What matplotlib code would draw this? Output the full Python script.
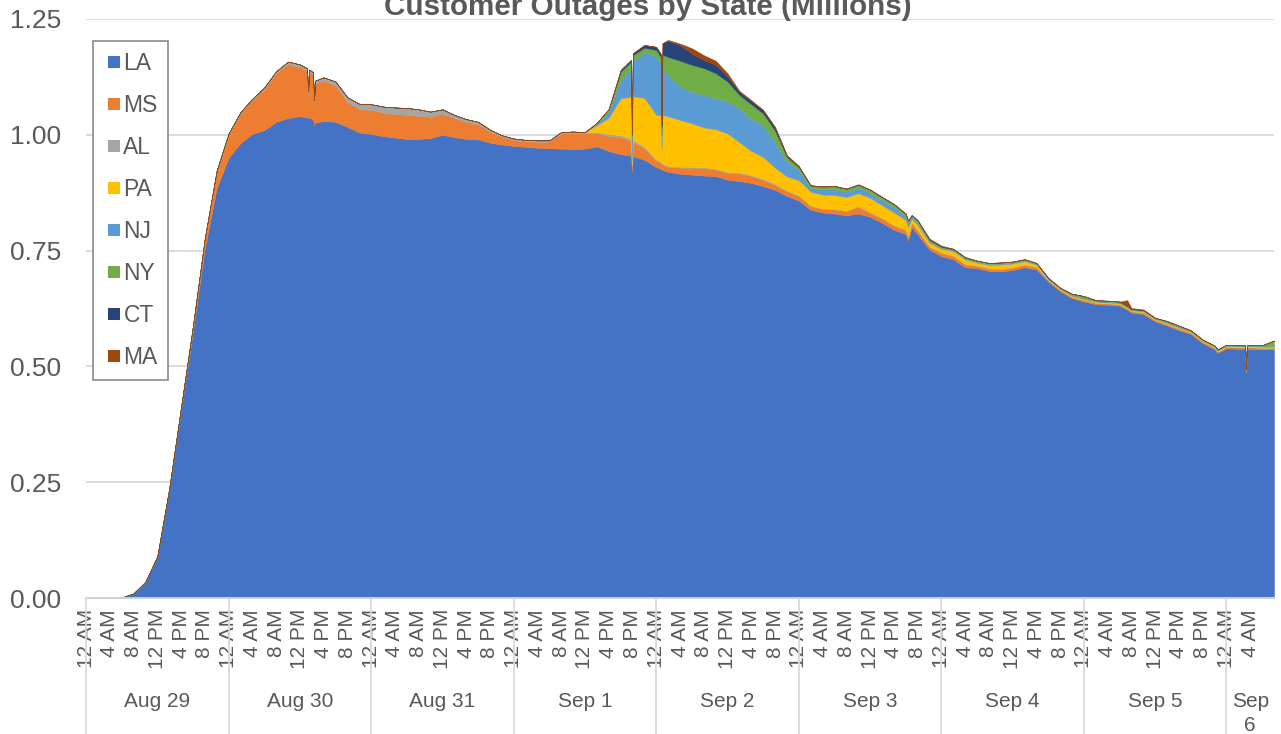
import numpy as np
import matplotlib
matplotlib.use("Agg")
import matplotlib.pyplot as plt
from matplotlib.lines import Line2D
from matplotlib.ticker import FormatStrFormatter
import matplotlib.transforms as mtransforms

plt.rcParams['font.family'] = ['Liberation Sans', 'DejaVu Sans']

TITLE = "Customer Outages by State (Millions)"

# hours since Aug 29, 12 AM
HOURS = [0, 2, 4, 6, 8, 10, 12, 14, 16, 18,
         20, 22, 24, 26, 28, 30, 32, 34, 36,
         37.2, 37.4, 37.6, 38.2, 38.4, 38.6,
         40, 42, 44, 46, 48, 50, 52, 54, 56, 58,
         60, 62, 64, 66, 68, 70, 72, 74, 76, 78,
         80, 82, 84, 86, 88, 90,
         91.75, 91.9, 92.05, 94, 96, 96.75, 96.9, 97.05,
         98, 100, 102, 104, 106, 108, 110, 112, 114, 116, 118,
         120, 122, 124, 126, 128, 130, 132, 134, 136, 138, 138.4, 139,
         140, 142, 144, 146, 148, 150, 152, 154, 156, 158,
         160, 162, 164, 166, 168, 170, 172, 174, 175.3,
         176, 178, 180, 182, 184, 186, 188, 190, 190.5,
         192, 194, 195.15, 195.3, 195.45, 196, 198, 200]

LA = [0, 0, 0, 0.001, 0.010, 0.035, 0.090, 0.233, 0.406, 0.575,
      0.755, 0.885, 0.950, 0.982, 1.002, 1.010, 1.028, 1.036, 1.040,
      1.038, 1.036, 1.037, 1.034, 1.022, 1.026,
      1.030, 1.028, 1.017, 1.005, 1.002, 0.997, 0.994, 0.991, 0.991, 0.993,
      1.000, 0.995, 0.991, 0.990, 0.983, 0.979, 0.976, 0.974, 0.972, 0.971,
      0.970, 0.969, 0.970, 0.975, 0.965, 0.958,
      0.955, 0.920, 0.954, 0.946, 0.930, 0.927, 0.925, 0.924,
      0.920, 0.916, 0.914, 0.912, 0.911, 0.903, 0.900, 0.896, 0.889, 0.881, 0.868,
      0.858, 0.838, 0.832, 0.830, 0.826, 0.830, 0.823, 0.810, 0.795, 0.786, 0.772, 0.800,
      0.785, 0.752, 0.738, 0.731, 0.714, 0.712, 0.706, 0.705, 0.708, 0.714,
      0.709, 0.683, 0.662, 0.647, 0.640, 0.634, 0.633, 0.631, 0.622,
      0.616, 0.613, 0.597, 0.588, 0.578, 0.570, 0.550, 0.537, 0.529,
      0.539, 0.538, 0.538, 0.486, 0.538, 0.538, 0.537, 0.537]

MS = [0, 0, 0, 0, 0, 0, 0, 0.003, 0.006, 0.012,
      0.020, 0.035, 0.050, 0.064, 0.073, 0.088, 0.105, 0.117, 0.106,
      0.100, 0.052, 0.098, 0.095, 0.047, 0.085,
      0.087, 0.079, 0.054, 0.050, 0.052, 0.051, 0.051, 0.052, 0.050, 0.046,
      0.046, 0.041, 0.037, 0.033, 0.024, 0.017, 0.013, 0.012, 0.013, 0.014,
      0.033, 0.035, 0.033, 0.028, 0.033, 0.037,
      0.033, 0.012, 0.031, 0.025, 0.014, 0.013, 0.012, 0.012,
      0.011, 0.013, 0.015, 0.016, 0.014, 0.015, 0.017, 0.015, 0.014, 0.011, 0.010,
      0.010, 0.008, 0.008, 0.009, 0.009, 0.015, 0.009, 0.009, 0.009, 0.008, 0.008, 0.010,
      0.008, 0.006, 0.007, 0.007, 0.006, 0.005, 0.005, 0.005, 0.005, 0.005,
      0.005, 0.003, 0.003, 0.003, 0.003, 0.003, 0.003, 0.003, 0.003,
      0.003, 0.003, 0.003, 0.003, 0.003, 0.003, 0.003, 0.003, 0.003,
      0.003, 0.003, 0.003, 0.003, 0.003, 0.003, 0.003, 0.003]

AL = [0, 0, 0, 0, 0, 0, 0, 0, 0, 0,
      0.002, 0.003, 0.003, 0.003, 0.003, 0.004, 0.004, 0.005, 0.006,
      0.006, 0.006, 0.006, 0.006, 0.006, 0.006,
      0.007, 0.008, 0.010, 0.012, 0.012, 0.013, 0.014, 0.015, 0.014, 0.011,
      0.009, 0.007, 0.006, 0.005, 0.004, 0.003, 0.003, 0.003, 0.003, 0.003,
      0.003, 0.003, 0.003, 0.003, 0.004, 0.004,
      0.004, 0.002, 0.004, 0.003, 0.002, 0.002, 0.002, 0.002,
      0.002, 0.002, 0.002, 0.002, 0.002, 0.002, 0.002, 0.002, 0.002, 0.002, 0.002,
      0.001, 0.001, 0.001, 0.001, 0.001, 0.001, 0.001, 0.001, 0.001, 0.001, 0.001, 0.001,
      0.001, 0.001, 0.001, 0.001, 0.001, 0.001, 0.001, 0.001, 0.001, 0.001,
      0.001, 0.0005, 0.0005, 0.0005, 0.0005, 0.0005, 0.0005, 0.0005, 0.0005,
      0.0005, 0.0005, 0.0005, 0.0005, 0.0005, 0.0005, 0.0005, 0.0005, 0.0005,
      0.0005, 0.0005, 0.0005, 0.0005, 0.0005, 0.0005, 0.0005, 0.0005]

PA = [0, 0, 0, 0, 0, 0, 0, 0, 0, 0,
      0, 0, 0, 0, 0, 0, 0, 0, 0,
      0, 0, 0, 0, 0, 0,
      0, 0, 0, 0, 0, 0, 0, 0, 0, 0,
      0, 0, 0, 0, 0, 0, 0, 0, 0, 0,
      0, 0, 0, 0.015, 0.035, 0.080,
      0.090, 0.010, 0.094, 0.106, 0.097, 0.100, 0.030, 0.105,
      0.107, 0.101, 0.094, 0.086, 0.085, 0.083, 0.065, 0.052, 0.047, 0.035, 0.030,
      0.033, 0.030, 0.030, 0.030, 0.030, 0.028, 0.031, 0.028, 0.028, 0.021, 0.020, 0.008,
      0.012, 0.008, 0.008, 0.010, 0.010, 0.006, 0.007, 0.009, 0.008, 0.007,
      0.005, 0.002, 0.002, 0.002, 0.002, 0.002, 0.002, 0.002, 0.002,
      0.002, 0.002, 0.002, 0.002, 0.002, 0.002, 0.002, 0.002, 0.002,
      0.002, 0.002, 0.002, 0.002, 0.002, 0.002, 0.002, 0.002]

NJ = [0, 0, 0, 0, 0, 0, 0, 0, 0, 0,
      0, 0, 0, 0, 0, 0, 0, 0, 0,
      0, 0, 0, 0, 0, 0,
      0, 0, 0, 0, 0, 0, 0, 0, 0, 0,
      0, 0, 0, 0, 0, 0, 0, 0, 0, 0,
      0, 0, 0, 0.003, 0.012, 0.039,
      0.060, 0.040, 0.075, 0.099, 0.126, 0.110, 0.030, 0.100,
      0.088, 0.072, 0.068, 0.070, 0.067, 0.069, 0.073, 0.069, 0.068, 0.054, 0.032,
      0.022, 0.008, 0.011, 0.012, 0.011, 0.012, 0.011, 0.011, 0.011, 0.008, 0.008, 0.004,
      0.005, 0.003, 0.002, 0.002, 0.002, 0.002, 0.002, 0.002, 0.002, 0.002,
      0.002, 0.001, 0.001, 0.001, 0.001, 0.001, 0.001, 0.001, 0.001,
      0.001, 0.002, 0.001, 0.002, 0.002, 0.001, 0.001, 0.001, 0.001,
      0.001, 0.001, 0.001, 0.001, 0.001, 0.001, 0.001, 0.001]

NY = [0, 0, 0, 0, 0, 0, 0, 0, 0, 0,
      0, 0, 0, 0, 0, 0, 0, 0, 0,
      0, 0, 0, 0, 0, 0,
      0, 0, 0, 0, 0, 0, 0, 0, 0, 0,
      0, 0, 0, 0, 0, 0, 0, 0, 0, 0,
      0, 0, 0, 0.002, 0.006, 0.018,
      0.016, 0.015, 0.014, 0.009, 0.014, 0.016, 0.016, 0.030,
      0.040, 0.056, 0.058, 0.058, 0.054, 0.043, 0.029, 0.032, 0.026, 0.026, 0.010,
      0.006, 0.005, 0.006, 0.007, 0.006, 0.006, 0.006, 0.006, 0.006, 0.005, 0.005, 0.003,
      0.004, 0.003, 0.002, 0.002, 0.002, 0.002, 0.002, 0.002, 0.002, 0.002,
      0.001, 0.001, 0.001, 0.003, 0.005, 0.002, 0.002, 0.002, 0.002,
      0.001, 0.001, 0.001, 0.002, 0.002, 0.001, 0.001, 0.001, 0.001,
      0.001, 0.001, 0.001, 0.001, 0.001, 0.001, 0.002, 0.012]

CT = [0, 0, 0, 0, 0, 0, 0, 0, 0, 0,
      0, 0, 0, 0, 0, 0, 0, 0, 0,
      0, 0, 0, 0, 0, 0,
      0, 0, 0, 0, 0, 0, 0, 0, 0, 0,
      0, 0, 0, 0, 0, 0, 0, 0, 0, 0,
      0, 0, 0, 0, 0.001, 0.004,
      0.004, 0.004, 0.004, 0.006, 0.007, 0.007, 0.007, 0.025,
      0.035, 0.034, 0.024, 0.018, 0.018, 0.011, 0.007, 0.007, 0.007, 0.007, 0.003,
      0.002, 0.001, 0.001, 0.001, 0.001, 0.001, 0.001, 0.001, 0.001, 0.001, 0.001, 0.001,
      0.001, 0.001, 0.001, 0.001, 0.001, 0.0005, 0.0005, 0.0005, 0.0005, 0.0005,
      0.0005, 0.0005, 0.0005, 0.0005, 0.0005, 0.0005, 0.0005, 0.0005, 0.0005,
      0.0005, 0.0005, 0.0005, 0.0005, 0.0005, 0.0005, 0.0005, 0.0005, 0.0005,
      0.0005, 0.0005, 0.0005, 0.0005, 0.0005, 0.0005, 0.0005, 0.0005]

MA = [0, 0, 0, 0, 0, 0, 0, 0, 0, 0,
      0, 0, 0, 0, 0, 0, 0, 0, 0,
      0, 0, 0, 0, 0, 0,
      0, 0, 0, 0, 0, 0, 0, 0, 0, 0,
      0, 0, 0, 0, 0, 0, 0, 0, 0, 0,
      0, 0, 0, 0, 0, 0,
      0, 0, 0, 0, 0, 0, 0, 0,
      0.002, 0.003, 0.012, 0.010, 0.009, 0.007, 0.002, 0.002, 0.001, 0.001, 0.001,
      0.001, 0, 0, 0, 0, 0, 0, 0, 0, 0, 0, 0,
      0, 0.002, 0.002, 0, 0, 0, 0, 0, 0, 0,
      0, 0, 0, 0, 0, 0, 0, 0, 0.012,
      0.002, 0.001, 0, 0, 0, 0, 0, 0, 0,
      0, 0, 0, 0, 0, 0, 0, 0]

STATES = ["LA", "MS", "AL", "PA", "NJ", "NY", "CT", "MA"]
SERIES = [LA, MS, AL, PA, NJ, NY, CT, MA]
COLORS = ["#4472C4", "#ED7D31", "#A5A5A5", "#FFC000",
          "#5B9BD5", "#70AD47", "#264478", "#9E480E"]

HOUR_PATTERN = ["12 AM", "4 AM", "8 AM", "12 PM", "4 PM", "8 PM"]
DAY_LABELS = ["Aug 29", "Aug 30", "Aug 31", "Sep 1", "Sep 2",
              "Sep 3", "Sep 4", "Sep 5", "Sep\n6"]

for s in SERIES:
    assert len(s) == len(HOURS)

W, H = 1281, 734
TXT = "#595959"
GRID = "#D9D9D9"

fig = plt.figure(figsize=(W / 100, H / 100), dpi=100)
ax_l, ax_r, ax_t, ax_b = 86, 1274, 19, 598
ax = fig.add_axes([ax_l / W, 1 - ax_b / H, (ax_r - ax_l) / W, (ax_b - ax_t) / H])

polys = ax.stackplot(HOURS, *SERIES, colors=COLORS, labels=STATES)
for p, c in zip(polys, COLORS):
    p.set_edgecolor(c)
    p.set_linewidth(0.3)

x_end = HOURS[-1]
ax.set_xlim(0, x_end)
ax.set_ylim(0, 1.25)

ax.set_axisbelow(True)
ax.set_yticks(np.arange(0, 1.26, 0.25))
ax.yaxis.set_major_formatter(FormatStrFormatter('%.2f'))
ax.yaxis.grid(True, color=GRID, lw=1.3)

major = np.arange(0, x_end - 3, 4)
ax.set_xticks(major)
ax.set_xticklabels([HOUR_PATTERN[i % 6] for i in range(len(major))])
days = np.arange(0, x_end, 24)
ax.set_xticks(days, minor=True)
ax.xaxis.grid(True, which='minor', color=GRID, lw=1.3)
ax.xaxis.grid(False, which='major')

ax.tick_params(axis='x', which='major', length=0, pad=8, labelsize=15,
               labelcolor=TXT, labelrotation=90)
ax.tick_params(axis='x', which='minor', length=0)
ax.tick_params(axis='y', length=0, pad=18, labelsize=19, labelcolor=TXT)

for side in ['left', 'right', 'top']:
    ax.spines[side].set_visible(False)
ax.spines['bottom'].set_color(GRID)
ax.spines['bottom'].set_linewidth(1.3)

plot_h = ax_b - ax_t
trans = mtransforms.blended_transform_factory(ax.transData, ax.transAxes)
for d in days:
    ax.plot([d, d], [0, -(H - ax_b) / plot_h], transform=trans, color=GRID,
            lw=1.3, clip_on=False, solid_capstyle='butt')

for i, lab in enumerate(DAY_LABELS):
    x0 = i * 24
    x1 = min((i + 1) * 24, x_end)
    for k, line in enumerate(lab.split("\n")):
        yb = 707 + k * 24
        ax.text((x0 + x1) / 2, -(yb - ax_b) / plot_h, line, transform=trans,
                ha='center', va='baseline', fontsize=15, color=TXT)

handles = [Line2D([], [], marker='s', ls='none', markersize=9.2,
                  markerfacecolor=c, markeredgewidth=0) for c in COLORS]
leg = ax.legend(handles, STATES, loc='upper left',
                bbox_to_anchor=(92.5 / W, 1 - 41.5 / H),
                bbox_transform=fig.transFigure, frameon=True, fancybox=False,
                edgecolor='#808080', framealpha=1, fontsize=16.5, labelcolor=TXT,
                handlelength=0.93, handletextpad=-0.05, borderpad=0.47,
                labelspacing=0.83, borderaxespad=0)
leg.get_frame().set_linewidth(1.1)

fig.text(648 / W, 1 - 15 / H, TITLE, ha='center', va='baseline',
         fontsize=21.3, fontweight='bold', color=TXT)

fig.savefig("out.png", dpi=100)
